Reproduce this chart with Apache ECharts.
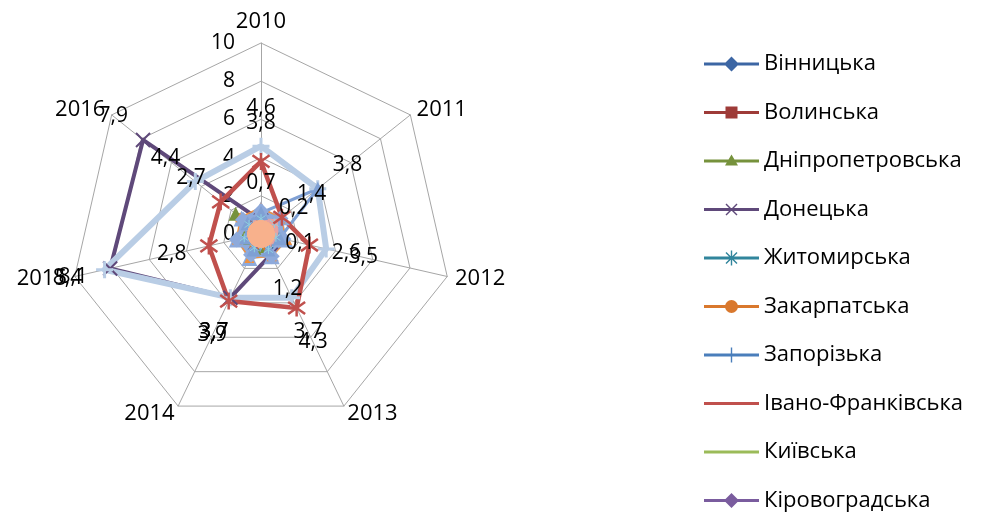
<!DOCTYPE html>
<html>
<head>
<meta charset="utf-8">
<script src="https://cdn.jsdelivr.net/npm/echarts@6/dist/echarts.min.js"></script>
<style>
html,body{margin:0;padding:0;background:#fff;}
#c{width:982px;height:513px;}
</style>
</head>
<body>
<div id="c"></div>
<script>
// ---- categories (radar axes) ----
const years = ['2010', '2011', '2012', '2013', '2014', '2015', '2016'];
const axisMax = 10;

// ---- series values, 2010..2016 ----
const vinnytska      = [0.9, 0.8, 0.7, 0.8, 0.9, 0.8, 0.9];
const volynska       = [0.4, 0.5, 0.4, 0.3, 0.4, 0.5, 0.4];
const dnipropetrovska= [0.8, 0.7, 0.6, 0.7, 0.8, 0.9, 1.7];
const donetska       = [0.7, 0.2, 0.1, 1.2, 3.7, 8.1, 7.9];
const zhytomyrska    = [0.5, 0.6, 0.7, 0.5, 0.6, 0.4, 0.5];
const zakarpatska    = [0.7, 0.8, 0.6, 0.7, 0.8, 0.6, 0.7];
const zaporizka      = [0.9, 1.0, 0.8, 0.7, 0.9, 0.8, 1.0];
const ivanofrankivska= [0.6, 0.5, 0.7, 0.6, 0.5, 0.6, 0.7];
const kyivska        = [0.8, 0.7, 0.6, 0.8, 0.7, 0.9, 1.0];
const kirovohradska  = [0.4, 0.5, 0.6, 0.4, 0.5, 0.4, 0.6];
const luhanska       = [4.6, 3.8, 3.5, 3.7, 3.7, 8.4, 4.4];
const lvivska        = [0.6, 0.7, 0.5, 0.6, 0.7, 0.5, 0.6];
const mykolaivska    = [1.3, 1.4, 1.3, 1.3, 1.4, 1.3, 1.3];
const odeska         = [1.4, 1.3, 1.4, 1.3, 1.4, 1.3, 1.4];
const poltavska      = [1.2, 1.3, 1.2, 1.3, 1.2, 1.3, 1.2];
const rivnenska      = [0.3, 0.6, 0.5, 0.3, 0.2, 0.3, 0.2];
const sumska         = [1.1, 3.8, 1.0, 0.9, 0.9, 0.8, 0.9];
const ternopilska    = [0.8, 0.9, 0.8, 0.9, 0.8, 0.9, 0.8];
const kharkivska     = [3.8, 1.4, 2.6, 4.3, 3.9, 2.8, 2.7];
const khersonska     = [0.5, 0.4, 0.5, 0.6, 0.4, 0.5, 0.4];
const khmelnytska    = [0.4, 0.3, 0.4, 0.5, 0.3, 0.4, 0.5];
const cherkaska      = [0.6, 0.5, 0.4, 0.5, 0.6, 0.4, 0.5];
const chernivetska   = [0, 0, 0, 0, 0, 0, 0];
const chernihivska   = [0.3, 0.4, 0.3, 0.4, 0.3, 0.4, 0.3];

// ---- names ----
const regionNames = ['Вінницька','Волинська','Дніпропетровська','Донецька','Житомирська',
  'Закарпатська','Запорізька','Івано-Франківська','Київська','Кіровоградська',
  'Луганська','Львівська','Миколаївська','Одеська','Полтавська','Рівненська','Сумська',
  'Тернопільська','Харківська','Херсонська','Хмельницька','Черкаська','Чернівецька','Чернігівська'];
const regionValues = [vinnytska, volynska, dnipropetrovska, donetska, zhytomyrska,
  zakarpatska, zaporizka, ivanofrankivska, kyivska, kirovohradska,
  luhanska, lvivska, mykolaivska, odeska, poltavska, rivnenska, sumska,
  ternopilska, kharkivska, khersonska, khmelnytska, cherkaska, chernivetska, chernihivska];
const legendCount = 10;

// ---- styles ----
const FONT = 'Open Sans';
const SYM_X = 'path://M0,0L12,12M12,0L0,12';
const SYM_AST = 'path://M0,1L12,11M12,1L0,11M6,-1L6,13';
const SYM_PLUS = 'path://M6,0L6,12M0,6L12,6';
const styles = {
  'Вінницька':        {color:'#3C66A4', symbol:'diamond', size:12, width:2.5, icon:'diamond'},
  'Волинська':        {color:'#9E3B38', symbol:'rect', size:10, width:2.5, icon:'square'},
  'Дніпропетровська': {color:'#76923C', symbol:'triangle', size:14, width:2.5, icon:'triangle'},
  'Донецька':         {color:'#5F497A', symbol:SYM_X, size:14, width:4, stroke:2, icon:'x', label:true},
  'Житомирська':      {color:'#31859C', symbol:SYM_AST, size:10, width:2.5, stroke:1.5, icon:'star'},
  'Закарпатська':     {color:'#D9782D', symbol:'circle', size:10, width:2.5, icon:'circle'},
  'Запорізька':       {color:'#4A7EBB', symbol:SYM_PLUS, size:10, width:2.5, stroke:1.5, icon:'plus'},
  'Івано-Франківська':{color:'#C0504D', symbol:'none', size:0, width:2.5, icon:'none'},
  'Київська':         {color:'#9BBB59', symbol:'none', size:0, width:2.5, icon:'none'},
  'Кіровоградська':   {color:'#7A5C9E', symbol:'diamond', size:12, width:2.5, icon:'diamond'},
  'Луганська':        {color:'#B9CDE5', symbol:SYM_PLUS, size:17, width:6, stroke:3, label:true},
  'Львівська':        {color:'#D99694', symbol:'none', size:0, width:2},
  'Миколаївська':     {color:'#8EAADB', symbol:'triangle', size:16, width:2, area:true},
  'Одеська':          {color:'#F0913F', symbol:'triangle', size:10, width:1.5},
  'Полтавська':       {color:'#8EAADB', symbol:'diamond', size:16, width:2},
  'Рівненська':       {color:'#E6A3A1', symbol:'rect', size:16, width:1},
  'Сумська':          {color:'#7FA0D4', symbol:'triangle', size:14, width:3},
  'Тернопільська':    {color:'#8FD0E0', symbol:SYM_AST, size:9, width:1, stroke:1},
  'Харківська':       {color:'#C0504D', symbol:SYM_AST, size:17, width:4.5, stroke:2.5, label:true},
  'Херсонська':       {color:'#B3A2C7', symbol:'none', size:0, width:2},
  'Хмельницька':      {color:'#93CDDD', symbol:'none', size:0, width:2},
  'Черкаська':        {color:'#C3D69B', symbol:'none', size:0, width:2},
  'Чернівецька':      {color:'#F8B18C', symbol:'circle', size:27, width:1},
  'Чернігівська':     {color:'#95B3D7', symbol:'none', size:0, width:2}
};

// legend icons: line + marker in a 55x16 box
function legendIcon(kind) {
  let p = 'M0,0L0,0M55,16L55,16M0,6.5L55,6.5L55,9.5L0,9.5Z';
  if (kind === 'diamond') p += 'M27.5,0.5L35,8L27.5,15.5L20,8Z';
  if (kind === 'square') p += 'M21.5,2L33.5,2L33.5,14L21.5,14Z';
  if (kind === 'triangle') p += 'M27.5,1.5L34,12.5L21,12.5Z';
  if (kind === 'x' || kind === 'star') p += 'M21.5,3L22.5,2L33.5,13L32.5,14ZM32.5,2L33.5,3L22.5,14L21.5,13Z';
  if (kind === 'star') p += 'M26.8,0.5L28.2,0.5L28.2,15.5L26.8,15.5Z';
  if (kind === 'circle') p += 'M21,8A6.5,6.5,0,1,1,34,8A6.5,6.5,0,1,1,21,8Z';
  if (kind === 'plus') p += 'M26.8,0.5L28.2,0.5L28.2,15.5L26.8,15.5Z';
  return 'path://' + p;
}

// radar axes run counter-clockwise in ECharts; reorder so years go clockwise from top
const order = [0, 6, 5, 4, 3, 2, 1];
const reorder = arr => order.map(i => arr[i]);

// data labels pushed radially outward
const LBL_R = 38;
const rich = {};
for (let j = 0; j < years.length; j++) {
  const a = (90 + j * 360 / years.length) * Math.PI / 180;
  const ox = LBL_R * Math.cos(a), oy = -LBL_R * Math.sin(a);
  rich['d' + j] = {
    fontSize: 21, fontFamily: FONT, color: '#000',
    padding: [Math.max(2 * oy, 0), Math.max(-2 * ox, 0), Math.max(-2 * oy, 0), Math.max(2 * ox, 0)]
  };
}
const fmt = v => String(v).replace('.', ',');

const series = regionNames.map((name, k) => {
  const st = styles[name];
  const s = {
    type: 'radar',
    name: name,
    symbol: st.symbol,
    symbolSize: st.size,
    lineStyle: {color: st.color, width: st.width},
    itemStyle: {color: st.color, borderColor: st.color, borderWidth: st.stroke || 0},
    areaStyle: st.area ? {color: st.color, opacity: 1} : undefined,
    data: [{name: name, value: reorder(regionValues[k])}],
    label: {show: false},
    z: 2
  };
  if (st.label) {
    s.label = {
      show: true, position: 'inside', rich: rich,
      formatter: p => {
        const d = p.dimensionIndex;
        const v = Array.isArray(p.value) ? p.value[d] : p.value;
        return '{d' + d + '|' + fmt(v) + '}';
      }
    };
  }
  return s;
});

const chart = echarts.init(document.getElementById('c'), null, {renderer: 'canvas'});
chart.setOption({
  animation: false,
  backgroundColor: '#fff',
  legend: {
    orient: 'vertical',
    left: 704,
    top: 53,
    padding: 0,
    itemWidth: 55,
    itemHeight: 16,
    itemGap: 26.5,
    selectedMode: false,
    itemStyle: {borderWidth: 0},
    textStyle: {fontSize: 22, fontFamily: FONT, color: '#000', lineHeight: 22, padding: [0, 0, 0, 0]},
    data: regionNames.slice(0, legendCount).map(n => ({name: n, icon: legendIcon(styles[n].icon)}))
  },
  radar: {
    center: [261, 234],
    radius: 191,
    startAngle: 90,
    shape: 'polygon',
    splitNumber: 5,
    nameGap: 8,
    axisName: {color: '#000', fontSize: 22, fontFamily: FONT},
    indicator: order.map((i, j) => {
      const o = {name: years[i], min: 0, max: axisMax};
      if (j === 0) o.axisLabel = {show: true, color: '#000', fontSize: 21, fontFamily: FONT, margin: 26};
      return o;
    }),
    axisLine: {show: true, lineStyle: {color: '#A6A6A6', width: 1}},
    splitLine: {show: true, lineStyle: {color: '#A6A6A6', width: 1}},
    splitArea: {show: false},
    axisTick: {show: false},
    axisLabel: {show: false}
  },
  series: series
});
</script>
</body>
</html>
